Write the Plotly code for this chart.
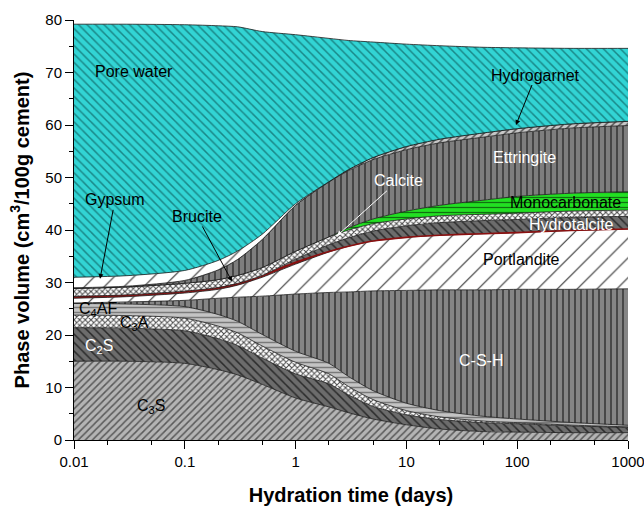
import plotly.graph_objects as go

# Hydration time (days)
times = [0.01, 0.03, 0.1, 0.2, 0.3, 0.5, 1, 2, 3, 5, 10, 20, 50, 100, 300, 1000]

# Phase volumes (cm3/100 g cement), stacked bottom -> top
c3s = [15.0, 15.0, 14.6, 13.4, 12.4, 10.6, 8.0, 6.3, 5.2, 4.0, 2.9, 2.1, 1.6, 1.5, 1.4, 1.4]
c2s = [6.4, 6.3, 6.2, 5.9, 5.6, 5.0, 4.6, 4.4, 3.4, 2.4, 1.9, 1.8, 1.7, 1.6, 1.3, 1.0]
c3a = [2.4, 2.4, 2.4, 2.4, 2.4, 2.3, 2.2, 1.9, 1.6, 1.3, 0.8, 0.5, 0.3, 0.2, 0.15, 0.1]
c4af = [2.2, 2.2, 2.2, 2.2, 2.2, 2.2, 2.1, 2.0, 1.9, 1.7, 1.4, 1.2, 0.9, 0.7, 0.5, 0.3]
csh = [0.1, 0.4, 1.2, 3.1, 4.6, 7.3, 10.9, 13.5, 16.1, 19.0, 21.5, 23.0, 24.1, 24.7, 25.35, 26.0]
portlandite = [0.9, 1.0, 1.4, 1.7, 2.3, 3.6, 5.7, 7.7, 8.7, 9.5, 10.1, 10.4, 10.7, 10.8, 11.2, 11.4]
brucite = [0.35, 0.35, 0.35, 0.35, 0.35, 0.35, 0.35, 0.1, 0, 0, 0, 0, 0, 0, 0, 0]
hydrotalcite = [0, 0, 0, 0, 0, 0, 0.6, 1.3, 1.6, 1.9, 2.2, 2.4, 2.5, 2.5, 2.5, 2.4]
calcite = [1.5, 1.5, 1.5, 1.5, 1.5, 1.5, 1.5, 1.5, 1.5, 1.4, 1.3, 1.3, 1.2, 1.2, 1.2, 1.2]
monocarbonate = [0, 0, 0, 0, 0, 0, 0, 0, 0.4, 0.9, 1.5, 2.0, 2.7, 3.2, 3.4, 3.5]
ettringite = [0.15, 0.15, 0.55, 1.85, 3.05, 5.35, 8.75, 10.45, 10.9, 11.3, 11.7, 11.9, 12.0, 12.1, 12.4, 12.6]
hydrogarnet = [0, 0, 0, 0, 0, 0, 0, 0.05, 0.2, 0.4, 0.6, 0.7, 0.8, 0.8, 0.8, 0.8]
gypsum = [2.0, 2.0, 1.9, 1.8, 1.6, 1.0, 0.3, 0, 0, 0, 0, 0, 0, 0, 0, 0]
pore_water = [48.2, 47.9, 46.8, 44.7, 42.7, 38.6, 32.2, 27.3, 24.6, 22.0, 19.5, 17.8, 16.3, 15.4, 14.4, 13.9]

# (name, values, pattern shape, bg, fg, size, solidity, line colour, line width)
layers = [
    ("C3S", c3s, "/", "#b4b4b4", "#5a5a5a", 5, 0.3, "#1a1a1a", 0.8),
    ("C2S", c2s, "\\", "#6c6c6c", "#2a2a2a", 6, 0.25, "#1a1a1a", 0.8),
    ("C3A", c3a, "x", "#ffffff", "#4a4a4a", 4, 0.45, "#1a1a1a", 0.8),
    ("C4AF", c4af, "-", "#c4c4c4", "#7a7a7a", 5, 0.3, "#1a1a1a", 0.8),
    ("C-S-H", csh, "|", "#858585", "#333333", 6, 0.25, "#1a1a1a", 0.8),
    ("Portlandite", portlandite, "/", "#ffffff", "#333333", 14, 0.08, "#1a1a1a", 0.8),
    ("Brucite", brucite, "", "#8b1a1a", "#8b1a1a", 8, 0.3, "#8b1010", 1.6),
    ("Hydrotalcite", hydrotalcite, "\\", "#6c6c6c", "#2a2a2a", 6, 0.25, "#1a1a1a", 0.8),
    ("Calcite", calcite, "x", "#ffffff", "#4a4a4a", 4, 0.45, "#1a1a1a", 0.8),
    ("Monocarbonate", monocarbonate, "-", "#22e022", "#107010", 5, 0.25, "#1a1a1a", 0.8),
    ("Ettringite", ettringite, "|", "#7e7e7e", "#333333", 6, 0.25, "#1a1a1a", 0.8),
    ("Hydrogarnet", hydrogarnet, "/", "#c8c8c8", "#555555", 5, 0.3, "#1a1a1a", 0.8),
    ("Gypsum", gypsum, "/", "#ffffff", "#333333", 14, 0.08, "#1a1a1a", 0.8),
    ("Pore water", pore_water, "\\", "#32d4d4", "#1a8888", 6, 0.25, "#1a1a1a", 0.8),
]

fig = go.Figure()
for name, vals, shape, bg, fg, size, sol, lc, lw in layers:
    fig.add_trace(go.Scatter(
        x=times, y=vals, name=name, mode="lines",
        stackgroup="one",
        line=dict(color=lc, width=lw, shape="spline", smoothing=0.7),
        fillcolor=bg,
        fillpattern=dict(shape=shape, bgcolor=bg, fgcolor=fg, size=size,
                         solidity=sol, fillmode="replace"),
        hoverinfo="skip",
    ))

font_family = "Arial, Liberation Sans, sans-serif"
FS = 16

def lab(text, lx, y, color="black"):
    fig.add_annotation(x=lx, y=y, xref="x", yref="y", text=text, showarrow=False,
                       font=dict(family=font_family, size=FS, color=color))

lab("Pore water", -1.458, 70.1)
lab("Ettringite", 2.07, 53.9, "white")
lab("Monocarbonate", 2.44, 45.3)
lab("Hydrotalcite", 2.486, 41.1, "white")
lab("Portlandite", 2.043, 34.3)
lab("C-S-H", 1.673, 15.2, "white")
lab("C<sub>4</sub>AF", -1.783, 24.9)
lab("C<sub>3</sub>A", -1.458, 22.2)
lab("C<sub>2</sub>S", -1.774, 17.9, "white")
lab("C<sub>3</sub>S", -1.305, 6.3)

def arrow_lab(text, lx, y, ax, ay, color="black"):
    fig.add_annotation(x=lx, y=y, xref="x", yref="y", text=text, showarrow=True,
                       ax=ax, ay=ay, arrowhead=2, arrowsize=1, arrowwidth=1,
                       arrowcolor=color,
                       font=dict(family=font_family, size=FS, color=color))

arrow_lab("Hydrogarnet", 1.989, 60.0, 20, -50)
arrow_lab("Gypsum", -1.765, 30.7, 15, -79)
arrow_lab("Brucite", -0.574, 30.2, -35, -65)
arrow_lab("Calcite", 0.374, 38.9, 61, -55, "white")

fig.update_layout(
    width=644, height=508,
    margin=dict(l=74, r=16, t=20, b=68, autoexpand=False),
    paper_bgcolor="white", plot_bgcolor="white",
    showlegend=False,
    font=dict(family=font_family, size=15, color="black"),
)
fig.update_xaxes(
    type="log", range=[-2, 3], automargin=False,
    tickvals=[0.01, 0.1, 1, 10, 100, 1000],
    ticktext=["0.01", "0.1", "1", "10", "100", "1000"],
    ticklabeloverflow="allow",
    ticks="outside", ticklen=8, tickwidth=1, tickcolor="black",
    minor=dict(ticks="outside", ticklen=4, tickwidth=1, tickcolor="black", showgrid=False),
    showline=True, linecolor="black", linewidth=1,
    showgrid=False, zeroline=False,
    tickfont=dict(size=15),
    title=dict(text="<b>Hydration time (days)</b>", font=dict(size=20), standoff=18),
)
fig.update_yaxes(
    range=[0, 80], dtick=10, automargin=False,
    ticklabeloverflow="allow",
    ticks="outside", ticklen=8, tickwidth=1, tickcolor="black",
    minor=dict(ticks="outside", ticklen=4, dtick=5, tickwidth=1, tickcolor="black", showgrid=False),
    showline=True, linecolor="black", linewidth=1,
    showgrid=False, zeroline=False,
    tickfont=dict(size=15),
    title=dict(text="<b>Phase volume (cm<sup>3</sup>/100g cement)</b>", font=dict(size=20), standoff=10),
)

fig.write_html("out.html", config={"displayModeBar": False},
               post_script="document.body.style.margin='0';")
